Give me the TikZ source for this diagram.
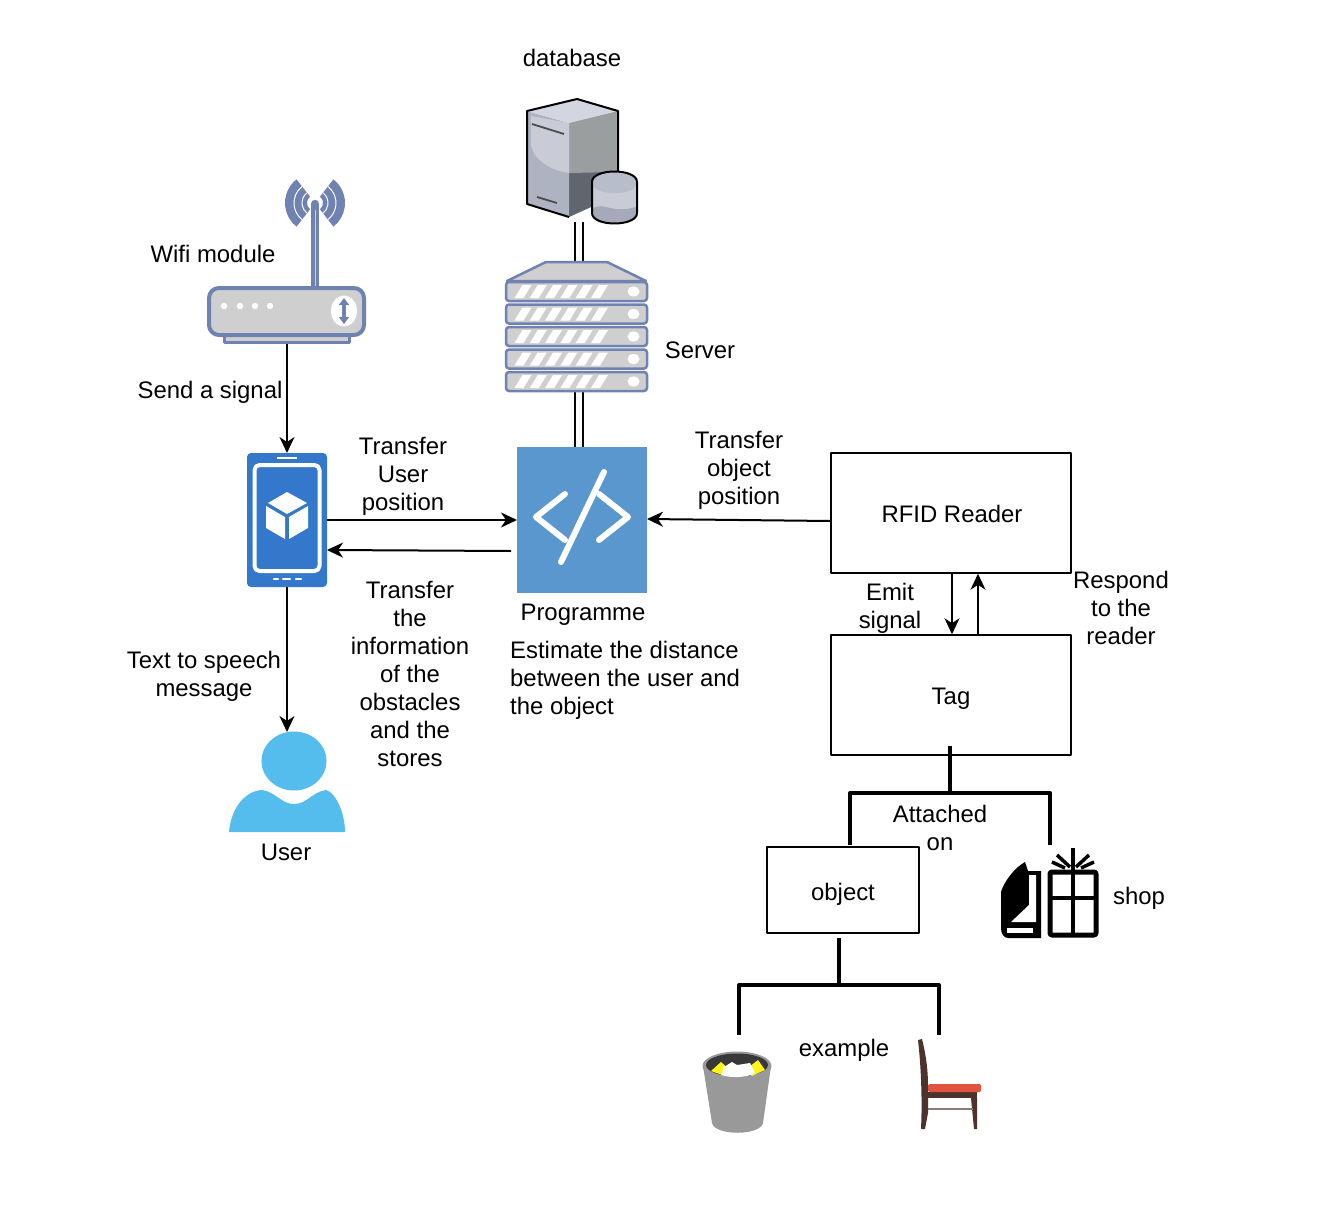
\documentclass[tikz,border=0pt]{standalone}
\usepackage{fontspec}
\setmainfont{Liberation Sans}
\usetikzlibrary{positioning, arrows.meta}
\definecolor{router_blue}{HTML}{6F82B1}
\definecolor{device_gray}{HTML}{CFCFCF}
\definecolor{phone_blue}{HTML}{3478CC}
\definecolor{prog_blue}{HTML}{5B97CF}
\definecolor{user_blue}{HTML}{55BCEE}
\definecolor{chair_brown}{HTML}{4C332B}
\definecolor{chair_red}{HTML}{E2533F}
\definecolor{store_top}{HTML}{D3D6E0}
\definecolor{store_left}{HTML}{AEB3C2}
\definecolor{store_light}{HTML}{C9CCD6}
\definecolor{store_right}{HTML}{9B9E9F}
\definecolor{store_dark}{HTML}{5F666E}
\definecolor{store_band}{HTML}{B8BDCC}
\definecolor{store_low}{HTML}{A5A9BA}
\begin{document}
\begin{tikzpicture}
    [
        x=1pt, y=-1pt, on grid, line join=round,
        font=\fontsize{23.9}{28}\selectfont,
        box_node/.style={rectangle, draw=black, fill=white, line width=1.5pt, minimum width=240pt, minimum height=120pt, inner sep=0pt},
        icon_node/.style={rectangle, inner sep=0pt, outer sep=0pt},
        text_node/.style={inner sep=0pt, align=center},
        flow_arrow/.style={-{Stealth[length=16pt, width=15pt, inset=5pt]}, line width=2pt, color=black},
        double_line/.style={double, double distance=6pt, line width=1.6pt, color=black},
        tree_line/.style={line width=4pt, color=black},
        device_part/.style={draw=router_blue, fill=device_gray, line width=3.5pt, rounded corners=5pt},
    ]
        \useasboundingbox (0,0) rectangle (1342,1212);

        \node[icon_node, minimum width=130pt, minimum height=146pt, fill=prog_blue] (prog) at (582,520) {};
        \node[icon_node, minimum width=80pt, minimum height=134pt] (phone) [left = 295pt of prog] {};
        \node[icon_node, minimum width=158pt, minimum height=55pt] (router) at (287,315.5) {};
        \node[icon_node, minimum width=116pt, minimum height=100pt] (user) [below = 262pt of phone] {};
        \node[icon_node, minimum width=146pt, minimum height=130pt] (server) at (579,327) {};
        \node[icon_node, minimum width=110pt, minimum height=122pt] (store) at (579,161) {};
        \node[box_node] (rfid) at (951,513) {};
        \node[box_node] (tag) [below = 182pt of rfid] {};
        \node[box_node, minimum width=152pt, minimum height=86pt] (object) at (843,890) {};
        \node[icon_node, minimum width=100pt, minimum height=92pt] (shop) at (1050,892) {};
        \node[icon_node, minimum width=70pt, minimum height=82pt] (bin) at (737,1091) {};
        \node[icon_node, minimum width=64pt, minimum height=92pt] (chair) at (949,1085) {};

        \node[text_node] (rfid_label) at (952,514) {RFID Reader};
        \node[text_node] (tag_label) at (951,699) {Tag};
        \node[text_node] (object_label) at (843,894) {object};
        \node[text_node] (store_label) at (572,58) {database};
        \node[text_node] (router_label) at (213,254) {Wifi module};
        \node[text_node] (server_label) at (700,350) {Server};
        \node[text_node] (signal_label) at (210,392) {Send a signal};
        \node[text_node] (user_pos_label) at (403,476) {Transfer\\User\\position};
        \node[text_node] (object_pos_label) at (739,470) {Transfer\\object\\position};
        \node[text_node] (prog_label) at (583,615) {Programme};
        \node[text_node, align=left, anchor=north west] (estimate_label) at (510,641) {Estimate the distance\\between the user and\\the object};
        \node[text_node] (emit_label) at (890,608) {Emit\\signal};
        \node[text_node] (respond_label) at (1121,608) {Respond\\to the\\reader};
        \node[text_node] (attached_label) at (940,828) {Attached\\on};
        \node[text_node] (shop_label) at (1139,898) {shop};
        \node[text_node] (example_label) at (844,1050) {example};
        \node[text_node] (speech_label) at (204,676) {Text to speech\\message};
        \node[text_node] (info_label) at (410,674) {Transfer\\the\\information\\of the\\obstacles\\and the\\stores};
        \node[text_node] (user_label) at (286,852) {User};

        \draw[flow_arrow] (router.south) -- (phone.north);
        \draw[flow_arrow] (phone.south) -- (user.north);
        \draw[flow_arrow] (phone.east) -- (prog.west);
        \draw[flow_arrow] ([xshift=-6pt, yshift=-31pt]prog.west) -- ([yshift=-30pt]phone.east);
        \draw[flow_arrow] ([yshift=-8pt]rfid.west) -- ([yshift=1pt]prog.east);
        \draw[flow_arrow] ([xshift=1pt]rfid.south) -- ([xshift=1pt]tag.north);
        \draw[flow_arrow] ([xshift=27pt]tag.north) -- ([xshift=27pt]rfid.south);
        \draw[double_line] (store.south) -- (server.north);
        \draw[double_line] (server.south) -- (server.south |- prog.north);

        \coordinate (tag_mid) at (950,793);
        \coordinate (object_top) at (850,845);
        \coordinate (shop_top) at (1050,845);
        \coordinate (object_mid) at (839,985);
        \coordinate (bin_top) at (739,1035);
        \coordinate (chair_top) at (939,1035);
        \draw[tree_line] ([yshift=10pt]tag.south -| tag_mid) -- (tag_mid);
        \draw[tree_line] (object_top) -- (object_top |- tag_mid) -- (shop_top |- tag_mid) -- (shop_top);
        \draw[tree_line] ([yshift=-4pt]object.south -| object_mid) -- (object_mid);
        \draw[tree_line] (bin_top) -- (bin_top |- object_mid) -- (chair_top |- object_mid) -- (chair_top);

        \fill[router_blue] (315,203) ++(128:30pt) arc[start angle=128, end angle=232, radius=30pt] -- ++(52:22pt) arc[start angle=232, end angle=128, radius=8pt] -- cycle;
        \fill[router_blue] (315,203) ++(52:30pt) arc[start angle=52, end angle=-52, radius=30pt] -- ++(128:22pt) arc[start angle=-52, end angle=52, radius=8pt] -- cycle;
        \foreach \waver in {13,21} {
            \draw[white, line width=1pt] (315,203) ++(128:\waver pt) arc[start angle=128, end angle=232, radius=\waver pt];
            \draw[white, line width=1pt] (315,203) ++(52:\waver pt) arc[start angle=52, end angle=-52, radius=\waver pt];
        }
        \draw[router_blue, line width=8.5pt, line cap=round] (315,204) -- (315,288);
        \draw[device_gray, line width=1pt] (315,210) -- (315,288);
        \draw[device_part, rounded corners=0pt, line width=3pt] (224,335) rectangle (349,342);
        \draw[device_part, rounded corners=10pt, line width=4pt] (209,288) rectangle (364,335);
        \foreach \dotx in {224,240,255,270} {
            \fill[white] (\dotx,306) circle[radius=3.2pt];
        }
        \fill[white] (344,311) circle[x radius=13pt, y radius=15.5pt];
        \draw[{Triangle[length=7pt, width=10pt]}-{Triangle[length=7pt, width=10pt]}, router_blue, line width=3.5pt] (344,298) -- (344,324);

        \fill[phone_blue, rounded corners=4pt] (247,453) rectangle (327,587);
        \draw[white, line width=4pt, rounded corners=5pt] (254.5,465) rectangle (319.5,571);
        \draw[white, line width=1.5pt] (277,458) -- (297,458);
        \draw[white, line width=2.5pt, line cap=round] (274,579) -- (278,579);
        \draw[white, line width=2.5pt, line cap=round] (283,579) -- (290,579);
        \draw[white, line width=2.5pt, line cap=round] (296,579) -- (301,579);
        \fill[white] (287,492) -- (307,503) -- (287,514) -- (268,503) -- cycle;
        \fill[white] (266,506) -- (285,517) -- (285,539) -- (266,528) -- cycle;
        \fill[white] (308,506) -- (289,517) -- (289,539) -- (308,528) -- cycle;

        \draw[white, line width=6pt, line cap=round] (565,494) -- (536,517) -- (565,540);
        \draw[white, line width=6pt, line cap=round] (599,494) -- (628,517) -- (599,540);
        \draw[white, line width=6pt, line cap=round] (604,472) -- (561,562);

        \fill[user_blue] (294,761) circle[x radius=32.5pt, y radius=29.5pt];
        \fill[user_blue] (229,832) .. controls (231,808) and (245,791) .. (262,790) .. controls (276,792) and (281,804) .. (294,804) .. controls (307,804) and (312,792) .. (326,790) .. controls (335,792) and (345,812) .. (345,832) -- cycle;

        \draw[device_part, line width=2.5pt, rounded corners=0pt] (507,281) -- (546,262) -- (607,262) -- (646,281) -- cycle;
        \foreach \rowy in {282,304.5,327,349.5,372} {
            \draw[device_part, line width=2.5pt, rounded corners=3pt] (506,\rowy) rectangle ++(141,19);
            \fill[white] (633.5,\rowy+9.5) circle[x radius=6pt, y radius=5pt];
            \foreach \stripex in {514.5,529.8,545.1,560.4,575.7,591} {
                \fill[white] (\stripex,\rowy+16) -- (\stripex+9,\rowy+16) -- (\stripex+17,\rowy+3) -- (\stripex+8,\rowy+3) -- cycle;
            }
        }

        \fill[store_dark] (569,123) -- (618,111) -- (618,195) -- (569,217) -- cycle;
        \fill[store_right] (569,123) -- (618,111) -- (618,172) -- (569,173) -- cycle;
        \fill[store_left] (527,111) -- (569,123) -- (569,217) -- (527,204) -- cycle;
        \fill[store_light] (531,116) -- (569,123) -- (569,173) .. controls (548,170) and (533,158) .. (531,145) -- cycle;
        \fill[store_top] (527,111) -- (577,99) -- (618,111) -- (569,123) -- cycle;
        \draw[black!70, line width=1.8pt] (532,124) -- (564,134);
        \draw[black!70, line width=1.8pt] (537,197) -- (557,203);
        \draw[black, line width=2pt] (569,217) -- (527,204) -- (527,111) -- (577,99) -- (618,111) -- (618,180);
        \fill[store_light] (592,182) .. controls (592,168) and (637,168) .. (637,182) -- (637,213) .. controls (637,227) and (592,227) .. (592,213) -- cycle;
        \fill[store_band] (593,182) .. controls (593,170) and (636,170) .. (636,182) -- (636,184) .. controls (636,196) and (593,196) .. (593,184) -- cycle;
        \fill[store_low] (593,208) .. controls (604,202) and (612,214) .. (636,207) -- (636,213) .. controls (636,226) and (593,226) .. (593,213) -- cycle;
        \draw[black, line width=2pt] (592,182) .. controls (592,168) and (637,168) .. (637,182) -- (637,213) .. controls (637,227) and (592,227) .. (592,213) -- cycle;

        \fill[black] (1025,862) -- (1028,871) -- (1041,871) -- (1041,938) -- (1008,938) .. controls (1004,938) and (1001,934) .. (1001,928) -- (1001,892) .. controls (1004,882) and (1014,868) .. (1025,862) -- cycle;
        \fill[white] (1029,875) -- (1036,875) -- (1036,922) -- (1011,922) -- (1029,905) -- cycle;
        \fill[white] (1007,928) -- (1033,928) -- (1033,933) -- (1007,933) -- cycle;
        \draw[black, line width=5pt, rounded corners=2pt] (1050,872) rectangle (1096,935);
        \draw[black, line width=4pt] (1073,872) -- (1073,935);
        \draw[black, line width=4pt] (1050,898) -- (1096,898);
        \draw[black, line width=4pt] (1073,870) -- (1073,848);
        \draw[black, line width=3.5pt] (1070,867) -- (1057,855);
        \draw[black, line width=3.5pt] (1065,868) -- (1052,862);
        \draw[black, line width=3.5pt] (1076,867) -- (1089,855);
        \draw[black, line width=3.5pt] (1081,868) -- (1094,862);

        \fill[black!40] (703,1066) -- (771,1066) -- (763,1123) .. controls (760,1136) and (715,1136) .. (712,1123) -- cycle;
        \fill[black!40] (737,1066) circle[x radius=34.5pt, y radius=14.5pt];
        \fill[black!78] (737,1065) circle[x radius=31pt, y radius=11.5pt];
        \fill[yellow!90!white] (711,1071) -- (721,1062) -- (730,1070) -- (725,1076) -- cycle;
        \fill[yellow!90!white] (758,1060) -- (765,1070) -- (752,1076) -- (745,1070) -- cycle;
        \fill[white] (721,1075) -- (724,1067) -- (732,1062) -- (737,1065) -- (750,1063) -- (755,1073) .. controls (747,1078) and (730,1078) .. (721,1075) -- cycle;

        \fill[chair_brown] (918,1040) -- (922,1039) .. controls (926,1055) and (928,1070) .. (928,1085) -- (928,1113) -- (925,1129) -- (921,1129) .. controls (922,1110) and (922,1075) .. (918,1040) -- cycle;
        \fill[chair_brown] (928,1092) rectangle (977,1098);
        \fill[chair_brown] (971,1098) -- (977,1098) -- (977,1129) -- (974,1129) -- cycle;
        \fill[chair_brown!65!white] (928,1107.5) rectangle (973,1110);
        \fill[chair_red, rounded corners=1.5pt] (928,1084) -- (981,1084) -- (981,1092) -- (928,1092) -- cycle;
    \end{tikzpicture}
\end{document}
